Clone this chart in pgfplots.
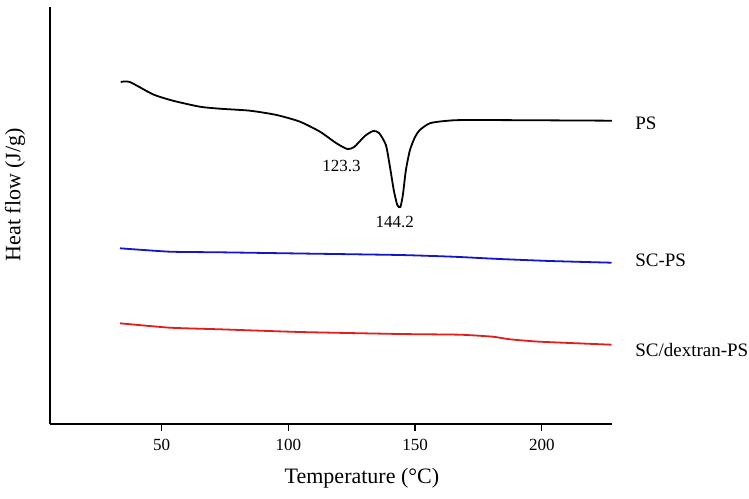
\documentclass[border=0pt]{standalone}
\usepackage{fontspec}
\setmainfont{Liberation Serif}
\usepackage{pgfplots}
\pgfplotsset{compat=1.18}
\definecolor{scblue}{RGB}{20,20,200}
\definecolor{scred}{RGB}{225,30,30}
\begin{document}
\begin{tikzpicture}
\useasboundingbox (-50pt,-74pt) rectangle (699pt,424pt);
\begin{axis}[
    at={(0,0)}, anchor=south west,
    scale only axis,
    width=562pt, height=417pt,
    xmin=6, xmax=227.7,
    ymin=0, ymax=417,
    axis lines*=left,
    axis line style={line width=1.8pt},
    xtick={50,100,150,200},
    ytick=\empty,
    tick align=outside,
    major tick length=7pt,
    xtick style={line width=1.4pt, black},
    ticklabel style={font=\fontsize{17}{20}\selectfont},
    xticklabel style={yshift=-5pt},
    /pgf/number format/assume math mode=true,
    xlabel={Temperature (°C)},
    ylabel={Heat flow (J/g)},
    label style={font=\fontsize{22}{26}\selectfont},
    xlabel style={at={(axis description cs:0.555,-0.1295)}, anchor=center},
    ylabel style={at={(axis description cs:-0.0623,0.55)}, anchor=center},
    clip=false,
]
% PS
\addplot[black, line width=1.8pt, smooth, tension=0.4] coordinates {
(33.9,342) (37.5,342) (46.6,329.7) (54.5,323.3) (65.1,317.3) (73.0,315.3)
(84.9,313.3) (95.4,309) (104.6,302.3) (112.5,292.3) (119.0,280.7)
(123.3,275) (126.0,277) (130.2,288) (133.5,293) (135.8,291)
(138.5,279) (140.1,257.3) (141.6,234) (143.0,219) (144.2,217)
(145.2,229) (146.4,254) (148.0,274) (150.0,287) (151.9,294)
(155.8,300.7) (161.8,303) (171.6,304) (227.6,303.3)
};
% SC-PS
\addplot[scblue, line width=1.8pt, smooth, tension=0.3] coordinates {
(33.6,175.7) (53.3,172.3) (73.0,171.7) (104.6,170.5) (144.0,169)
(164.9,167.3) (183.4,165) (203.2,163) (227.5,161.3)
};
% SC/dextran-PS
\addplot[scred, line width=1.8pt, smooth, tension=0.3] coordinates {
(33.6,100.7) (53.3,96.3) (73.0,94.7) (104.6,92) (144.0,90)
(167.7,89.3) (180.7,87.3) (187.4,84.7) (199.2,82.3) (227.5,79.3)
};
\node[anchor=west, font=\fontsize{19}{22}\selectfont] at (axis cs:235.5,301) {PS};
\node[anchor=west, font=\fontsize{19}{22}\selectfont] at (axis cs:235.5,164) {SC-PS};
\node[anchor=west, font=\fontsize{19}{22}\selectfont] at (axis cs:235.5,74) {SC/dextran-PS};
\node[font=\fontsize{17}{20}\selectfont] at (axis cs:121.0,258) {123.3};
\node[font=\fontsize{17}{20}\selectfont] at (axis cs:142.0,202.3) {144.2};
\end{axis}
\end{tikzpicture}
\end{document}
